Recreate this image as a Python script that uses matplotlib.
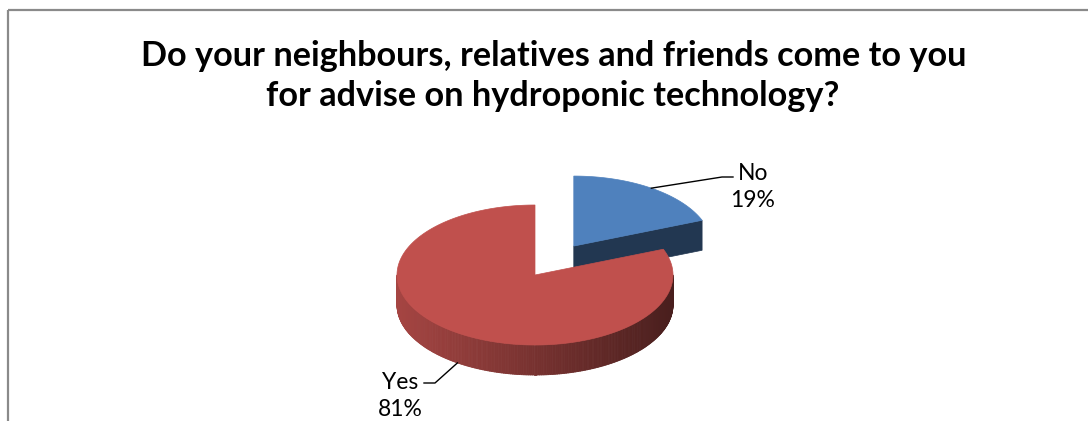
import matplotlib.pyplot as plt
import numpy as np
from matplotlib.collections import PolyCollection
from matplotlib.patches import Polygon

# survey answers, drawn clockwise from 12 o'clock
labels = ["No", "Yes"]
shares = [19, 81]
explode = [0.5, 0.0]
top_colors = ["#4F81BD", "#C0504D"]

TITLE_1 = "Do your neighbours, relatives and friends come to you"
TITLE_2 = "for advise on hydroponic technology?"

W, H = 1088, 421
CX, CY = 535, 275      # pie centre (px)
RX, RY = 138, 70       # ellipse radii of the tilted top
DEPTH = 30             # thickness of the disc

# label elbow (end of leader) and text centre for each slice
label_elbow = [(722, 177), (435, 383)]
label_end = [(733, 177), (424, 383)]
label_text = [(753, 187), (400, 396)]

FONT = "Lato"


def rgb(hexcol):
    h = hexcol.lstrip("#")
    return np.array([int(h[i:i + 2], 16) for i in (0, 2, 4)]) / 255.0


def side_shade(u):
    # u = -1 at the left edge of the disc, +1 at the right edge
    return 0.86 - 0.24 * (u + 1)


def rim_xy(t, cx, cy):
    return cx + RX * np.sin(t), cy - RY * np.cos(t)


fig = plt.figure(figsize=(W / 100, H / 100), dpi=100)
ax = fig.add_axes([0, 0, 1, 1])
ax.set_xlim(0, W)
ax.set_ylim(H, 0)
ax.axis("off")

# chart border (top and left edges)
ax.plot([7.5, W + 5], [9.5, 9.5], color="#8a8a8a", lw=1.6, solid_capstyle="butt")
ax.plot([7.5, 7.5], [9.5, H + 5], color="#8a8a8a", lw=1.6, solid_capstyle="butt")

fig.text(554 / W, 1 - 56 / H, TITLE_1, ha="center", va="center",
         fontsize=24.7, fontweight="bold", family=FONT)
fig.text(553 / W, 1 - 96 / H, TITLE_2, ha="center", va="center",
         fontsize=24.7, fontweight="bold", family=FONT)

total = float(sum(shares))
t_start = 0.0
for i, (lab, val) in enumerate(zip(labels, shares)):
    span = 2 * np.pi * val / total
    t0, t1 = t_start, t_start + span
    t_start = t1
    mid = (t0 + t1) / 2
    cx = CX + explode[i] * RX * np.sin(mid)
    cy = CY - explode[i] * RY * np.cos(mid)
    base = rgb(top_colors[i])

    # radial cut faces that turn towards the viewer
    for t, visible in ((t0, np.sin(t0) < -1e-6), (t1, np.sin(t1) > 1e-6)):
        if visible:
            ex, ey = rim_xy(t, cx, cy)
            face = [(cx, cy), (ex, ey), (ex, ey + DEPTH), (cx, cy + DEPTH)]
            ax.add_patch(Polygon(face, closed=True, facecolor=base * 0.43,
                                 edgecolor=base * 0.43, lw=0.5))

    # outer wall: front half only
    a, b = max(t0, np.pi / 2), min(t1, 3 * np.pi / 2)
    if b > a:
        ts = np.linspace(a, b, 240)
        xs, ys = rim_xy(ts, cx, cy)
        polys, cols = [], []
        for k in range(len(ts) - 1):
            polys.append([(xs[k], ys[k]), (xs[k + 1], ys[k + 1]),
                          (xs[k + 1], ys[k + 1] + DEPTH), (xs[k], ys[k] + DEPTH)])
            u = np.sin((ts[k] + ts[k + 1]) / 2)
            cols.append(np.clip(base * side_shade(u), 0, 1))
        ax.add_collection(PolyCollection(polys, facecolors=cols, edgecolors=cols,
                                         linewidths=0.6))

    # top surface
    ts = np.linspace(t0, t1, 300)
    xs, ys = rim_xy(ts, cx, cy)
    top = np.column_stack([np.r_[cx, xs], np.r_[cy, ys]])
    ax.add_patch(Polygon(top, closed=True, facecolor=base, edgecolor=base, lw=0.5))

    # leader line from the rim at the slice bisector
    lx, ly = rim_xy(mid, cx, cy)
    if -np.cos(mid) > 0:
        ly += DEPTH
    ex, ey = label_elbow[i]
    fx, fy = label_end[i]
    ax.plot([lx, ex, fx], [ly, ey, fy], color="black", lw=1.0)

    tx, ty = label_text[i]
    ax.text(tx, ty, f"{lab}\n{val}%", ha="center", va="center",
            fontsize=16.5, family=FONT, linespacing=1.4)

fig.savefig("out.png", dpi=100)
